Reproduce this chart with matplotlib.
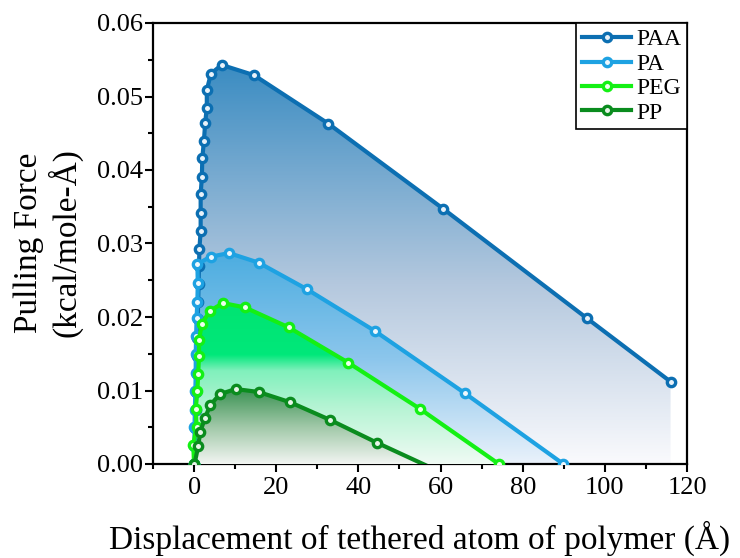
import numpy as np
import matplotlib
matplotlib.use('Agg')
import matplotlib.pyplot as plt
from matplotlib.colors import LinearSegmentedColormap
from matplotlib.patches import PathPatch
from matplotlib.ticker import MultipleLocator, FormatStrFormatter

plt.rcParams['font.family'] = ['Liberation Serif', 'DejaVu Serif']

# pulling force vs displacement of the tethered atom
paa_x = [0.0, 0.2, 0.3, 0.4, 0.5, 0.6, 0.7, 0.8, 0.9, 1.0, 1.1, 1.2, 1.3, 1.6, 1.6, 1.6,
         1.9, 2.0, 2.4, 2.7, 3.1, 3.1, 4.1, 6.7, 14.6, 32.7, 60.7, 95.7, 116.0]
paa_y = [0.0, 0.0024, 0.0049, 0.0073, 0.0098, 0.0122, 0.0147, 0.0172, 0.0197, 0.0220,
         0.0245, 0.0270, 0.0293, 0.0317, 0.0342, 0.0367, 0.0391, 0.0416, 0.0440, 0.0464,
         0.0485, 0.0509, 0.0531, 0.0543, 0.0529, 0.0463, 0.0347, 0.0198, 0.0112]

pa_x = [0.0, 0.1, 0.1, 0.2, 0.3, 0.4, 0.4, 0.5, 0.6, 0.8, 0.9, 0.8,
        4.0, 8.5, 15.7, 27.4, 44.0, 66.0, 89.9]
pa_y = [0.0, 0.0025, 0.0050, 0.0074, 0.0099, 0.0124, 0.0149, 0.0174, 0.0198, 0.0221,
        0.0246, 0.0272, 0.0282, 0.0287, 0.0274, 0.0238, 0.0181, 0.0096, 0.0]

peg_x = [0.0, -0.2, 0.6, 0.4, 0.8, 1.0, 1.2, 1.2, 1.9, 3.8, 7.0, 12.4, 23.0, 37.5, 55.0, 74.2]
peg_y = [0.0, 0.0026, 0.0051, 0.0075, 0.0099, 0.0122, 0.0147, 0.0169, 0.0191, 0.0208,
         0.0219, 0.0213, 0.0186, 0.0138, 0.0075, 0.0]

pp_x = [0.1, 1.0, 1.5, 2.7, 3.9, 6.3, 10.1, 15.7, 23.4, 33.1, 44.5, 60.0]
pp_y = [0.0, 0.0024, 0.0044, 0.0063, 0.0080, 0.0095, 0.0102, 0.0098, 0.0084, 0.0060,
        0.0029, -0.0011]

labels = ['PAA', 'PA', 'PEG', 'PP']
line_colors = ['#0c6fb2', '#1ea2e2', '#14f014', '#0a8c1e']
face_colors = ['#e8f2fa', '#eef8fd', '#effeef', '#e8f4e8']
fill_stops = [
    [(0.0, '#fafafd'), (0.45, '#b4c8de'), (1.0, '#3a8cc2')],
    [(0.0, '#eaf2fb'), (0.5, '#8cc6ec'), (1.0, '#4cade0')],
    [(0.0, '#f0fbf4'), (0.35, '#b6f4d4'), (0.58, '#80f0bc'),
     (0.68, '#00e87a'), (1.0, '#00e472')],
    [(0.0, '#f2f5f2'), (0.5, '#a0c8a8'), (1.0, '#3a9252')],
]


def gradient_under(ax, x, y, stops, z):
    poly = ax.fill_between(x, y, 0, facecolor='none', edgecolor='none', zorder=z)
    clip = PathPatch(poly.get_paths()[0], transform=ax.transData,
                     facecolor='none', edgecolor='none')
    ax.add_patch(clip)
    cmap = LinearSegmentedColormap.from_list('grad', stops)
    grad = np.linspace(0, 1, 256).reshape(-1, 1)
    img = ax.imshow(grad, cmap=cmap, origin='lower', aspect='auto',
                    extent=[min(x), max(x), 0, max(y)], zorder=z)
    img.set_clip_path(clip)


fig = plt.figure(figsize=(7.4, 5.58), dpi=100)
ax = fig.add_axes([153 / 740, 1 - 464 / 558, (687 - 153) / 740, (464 - 23) / 558])

data = [(paa_x, paa_y), (pa_x, pa_y), (peg_x, peg_y), (pp_x, pp_y)]
for i, (x, y) in enumerate(data):
    gradient_under(ax, x, y, fill_stops[i], 1 + i)

for i, (x, y) in enumerate(data):
    ax.plot(x, y, '-o', color=line_colors[i], lw=3.0, ms=6.0,
            mfc=face_colors[i], mec=line_colors[i], mew=2.4,
            label=labels[i], zorder=10 + i)

ax.set_xlim(-10, 120)
ax.set_ylim(0, 0.06)
ax.xaxis.set_major_locator(MultipleLocator(20))
ax.xaxis.set_minor_locator(MultipleLocator(10))
ax.yaxis.set_major_locator(MultipleLocator(0.01))
ax.yaxis.set_minor_locator(MultipleLocator(0.005))
ax.yaxis.set_major_formatter(FormatStrFormatter('%.2f'))
ax.tick_params(which='both', direction='out', top=False, right=False, width=1.5)
ax.tick_params(which='major', length=6, labelsize=19)
ax.tick_params(which='minor', length=3.5)
ax.tick_params(axis='y', pad=1)
ax.tick_params(axis='x', pad=3)
for s in ax.spines.values():
    s.set_linewidth(1.6)

leg = ax.legend(loc='upper right', fontsize=17, frameon=True, fancybox=False,
                edgecolor='black', framealpha=1, borderaxespad=0,
                handlelength=2.1, handletextpad=0.2, labelspacing=0.12,
                borderpad=0.25)
leg.get_frame().set_linewidth(1.2)
leg.set_zorder(20)

fig.text(48 / 740, 1 - 243 / 558, 'Pulling Force\n(kcal/mole-Å)', rotation=90,
         ha='center', va='center', ma='center', fontsize=24, linespacing=1.1)
fig.text(420 / 740, 1 - 538 / 558, 'Displacement of tethered atom of polymer (Å)',
         ha='center', va='center', fontsize=24)

fig.savefig('out.png', dpi=100)
